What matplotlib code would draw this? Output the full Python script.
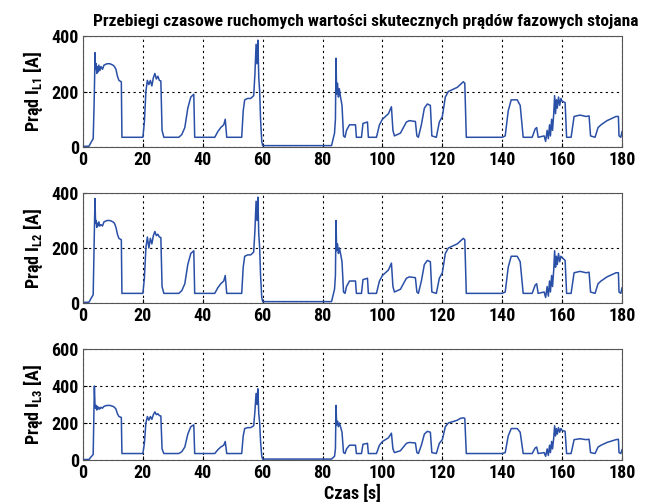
import matplotlib

matplotlib.use("Agg")
import matplotlib.pyplot as plt  # noqa: E402

# ---- data: (time [s], current [A]) breakpoints -------------------------------
seg_l1 = [
    (0, 2), (2, 3), (2.6, 15), (3.4, 30), (3.7, 150), (3.9, 260), (4.0, 340), (4.2, 280),
    (4.4, 300), (4.6, 265), (4.8, 290), (5.0, 270), (5.3, 295), (5.6, 275), (6.0, 290),
    (6.5, 280), (7.0, 295), (8.0, 300), (9.0, 300), (10.0, 295), (10.5, 290), (11.0, 280),
    (11.5, 255), (12.0, 240), (12.8, 235), (13.0, 35), (20.0, 35), (20.5, 90), (21.0, 200),
    (21.5, 240), (22.0, 225), (22.5, 240), (23.0, 220), (23.5, 250), (24.0, 265), (24.5, 245),
    (25.0, 255), (25.5, 240), (26.0, 238), (26.4, 60), (27.0, 35), (32.0, 35), (33.0, 45),
    (34.0, 70), (35.0, 140), (36.0, 180), (37.0, 190), (37.3, 35), (44.0, 35), (45.0, 55),
    (46.0, 70), (47.0, 80), (47.5, 100), (48.0, 35), (53.0, 35), (53.5, 130), (54.0, 170),
    (55.0, 175), (56.0, 175), (57.0, 185), (57.4, 260), (57.8, 370), (58.1, 300), (58.4, 385),
    (58.7, 250), (59.0, 200), (59.3, 100), (59.7, 20), (60.0, 5), (83.0, 5), (84.0, 50),
    (84.3, 100), (84.5, 320), (84.7, 190), (85.0, 230), (85.3, 180), (85.6, 210), (86.0, 180),
    (86.5, 150), (87.0, 40), (87.5, 35), (88.0, 60), (89.0, 80), (91.0, 80), (91.3, 35),
    (93.0, 35), (93.5, 85), (95.0, 90), (95.3, 35), (98.0, 35), (99.0, 80), (100.0, 100),
    (101.0, 110), (102.0, 120), (103.0, 145), (103.5, 60), (104.0, 40), (106.0, 50),
    (107.0, 70), (108.0, 90), (109.0, 95), (111.0, 92), (111.5, 40), (112.0, 35), (113.0, 80),
    (114.0, 140), (115.0, 155), (116.0, 150), (116.5, 40), (118.0, 35), (119.0, 90),
    (120.0, 110), (121.0, 180), (122.0, 200), (123.0, 205), (124.0, 210), (125.0, 215),
    (126.0, 225), (127.0, 235), (127.5, 230), (128.0, 35), (140.0, 35), (141.0, 40),
    (142.0, 130), (143.0, 170), (145.0, 170), (146.0, 150), (147.0, 35), (150.0, 35),
    (151.0, 65), (151.5, 70), (152.0, 35), (154.0, 40), (154.5, 20), (155.0, 60), (155.4, 30),
    (155.8, 80), (156.1, 40), (156.5, 100), (156.8, 60), (157.2, 120), (157.5, 185),
    (157.8, 120), (158.1, 170), (158.4, 140), (158.8, 180), (159.2, 150), (159.6, 175),
    (160.0, 165), (161.0, 160), (161.5, 35), (163.0, 35), (164.0, 110), (166.0, 115),
    (168.0, 110), (169.0, 112), (169.5, 40), (171.0, 35), (172.0, 70), (173.0, 80),
    (175.0, 95), (177.0, 105), (178.0, 110), (178.8, 110), (179.0, 40), (179.6, 35),
    (180.0, 55),
]

seg_l2 = [
    (0, 2), (2, 3), (2.6, 15), (3.4, 30), (3.7, 200), (3.9, 300), (4.0, 380), (4.2, 290),
    (4.4, 300), (4.6, 275), (4.8, 290), (5.0, 280), (5.3, 295), (5.6, 280), (6.0, 285),
    (6.5, 280), (7.0, 295), (8.0, 300), (9.0, 300), (10.0, 295), (10.5, 290), (11.0, 275),
    (11.5, 250), (12.0, 235), (12.8, 230), (13.0, 35), (20.0, 35), (20.5, 90), (21.0, 200),
    (21.5, 240), (22.0, 200), (22.5, 235), (23.0, 215), (23.5, 245), (24.0, 260), (24.5, 245),
    (25.0, 250), (25.5, 240), (26.0, 238), (26.4, 60), (27.0, 35), (32.0, 35), (33.0, 45),
    (34.0, 70), (35.0, 140), (36.0, 180), (37.0, 190), (37.3, 35), (44.0, 35), (45.0, 55),
    (46.0, 70), (47.0, 80), (47.5, 100), (48.0, 35), (53.0, 35), (53.5, 130), (54.0, 170),
    (55.0, 175), (56.0, 175), (57.0, 185), (57.4, 260), (57.8, 370), (58.1, 300), (58.4, 385),
    (58.7, 250), (59.0, 200), (59.3, 100), (59.7, 20), (60.0, 5), (83.0, 5), (84.0, 50),
    (84.3, 100), (84.5, 300), (84.7, 190), (85.0, 215), (85.3, 180), (85.6, 200), (86.0, 180),
    (86.5, 150), (87.0, 40), (87.5, 35), (88.0, 60), (89.0, 80), (91.0, 80), (91.3, 35),
    (93.0, 35), (93.5, 85), (95.0, 90), (95.3, 35), (98.0, 35), (99.0, 80), (100.0, 100),
    (101.0, 110), (102.0, 120), (103.0, 145), (103.5, 60), (104.0, 40), (106.0, 50),
    (107.0, 70), (108.0, 90), (109.0, 95), (111.0, 92), (111.5, 40), (112.0, 35), (113.0, 80),
    (114.0, 140), (115.0, 155), (116.0, 150), (116.5, 40), (118.0, 35), (119.0, 90),
    (120.0, 110), (121.0, 180), (122.0, 200), (123.0, 205), (124.0, 210), (125.0, 215),
    (126.0, 225), (127.0, 235), (127.5, 230), (128.0, 35), (140.0, 35), (141.0, 40),
    (142.0, 130), (143.0, 170), (145.0, 170), (146.0, 150), (147.0, 35), (150.0, 35),
    (151.0, 65), (151.5, 70), (152.0, 35), (154.0, 40), (154.5, 20), (155.0, 60), (155.4, 25),
    (155.8, 80), (156.1, 40), (156.5, 100), (156.8, 60), (157.2, 120), (157.5, 190),
    (157.8, 130), (158.1, 170), (158.4, 140), (158.8, 180), (159.2, 150), (159.6, 170),
    (160.0, 165), (161.0, 155), (161.5, 35), (163.0, 35), (164.0, 110), (166.0, 115),
    (168.0, 110), (169.0, 112), (169.5, 40), (171.0, 35), (172.0, 70), (173.0, 80),
    (175.0, 95), (177.0, 105), (178.0, 110), (178.8, 110), (179.0, 40), (179.6, 35),
    (180.0, 55),
]

seg_l3 = [
    (0, 2), (2, 3), (2.6, 15), (3.4, 30), (3.6, 200), (3.8, 400), (4.0, 300), (4.2, 280),
    (4.4, 295), (4.6, 270), (4.8, 290), (5.0, 275), (5.3, 285), (5.6, 275), (6.0, 285),
    (6.5, 280), (7.0, 290), (8.0, 295), (9.0, 295), (10.0, 290), (10.5, 285), (11.0, 275),
    (11.5, 250), (12.0, 235), (12.8, 230), (13.0, 35), (20.0, 35), (20.5, 90), (21.0, 200),
    (21.5, 235), (22.0, 215), (22.5, 235), (23.0, 220), (23.5, 245), (24.0, 260), (24.5, 245),
    (25.0, 250), (25.5, 240), (26.0, 238), (26.4, 60), (27.0, 35), (32.0, 35), (33.0, 45),
    (34.0, 70), (35.0, 140), (36.0, 180), (37.0, 190), (37.3, 35), (44.0, 35), (45.0, 55),
    (46.0, 70), (47.0, 80), (47.5, 100), (48.0, 35), (53.0, 35), (53.5, 130), (54.0, 170),
    (55.0, 175), (56.0, 175), (57.0, 185), (57.4, 260), (57.8, 360), (58.1, 300), (58.4, 385),
    (58.7, 250), (59.0, 200), (59.3, 100), (59.7, 20), (60.0, 5), (83.0, 5), (84.0, 20),
    (84.3, 60), (84.5, 295), (84.7, 190), (85.0, 210), (85.3, 180), (85.6, 200), (86.0, 180),
    (86.5, 150), (87.0, 40), (87.5, 35), (88.0, 60), (89.0, 80), (91.0, 80), (91.3, 35),
    (93.0, 35), (93.5, 85), (95.0, 90), (95.3, 35), (98.0, 35), (99.0, 80), (100.0, 100),
    (101.0, 110), (102.0, 120), (103.0, 145), (103.5, 60), (104.0, 40), (106.0, 50),
    (107.0, 70), (108.0, 90), (109.0, 95), (111.0, 92), (111.5, 40), (112.0, 35), (113.0, 80),
    (114.0, 140), (115.0, 155), (116.0, 150), (116.5, 40), (118.0, 35), (119.0, 90),
    (120.0, 110), (121.0, 180), (122.0, 200), (123.0, 205), (124.0, 210), (125.0, 215),
    (126.0, 225), (127.0, 228), (127.5, 225), (128.0, 35), (140.0, 35), (141.0, 40),
    (142.0, 130), (143.0, 170), (145.0, 170), (146.0, 150), (147.0, 35), (150.0, 35),
    (151.0, 65), (151.5, 70), (152.0, 35), (154.0, 40), (154.5, 20), (155.0, 60), (155.4, 25),
    (155.8, 80), (156.1, 40), (156.5, 100), (156.8, 60), (157.2, 120), (157.5, 185),
    (157.8, 130), (158.1, 170), (158.4, 140), (158.8, 175), (159.2, 150), (159.6, 170),
    (160.0, 160), (161.0, 155), (161.5, 35), (163.0, 35), (164.0, 110), (166.0, 115),
    (168.0, 110), (169.0, 112), (169.5, 40), (171.0, 35), (172.0, 70), (173.0, 80),
    (175.0, 95), (177.0, 105), (178.0, 110), (178.8, 112), (179.0, 40), (179.6, 35),
    (180.0, 55),
]

phases = ["L1", "L2", "L3"]
y_max = [400, 400, 600]
x_ticks = list(range(0, 181, 20))

BLUE = "#2a4fa6"
FONT = "Roboto Condensed"
plt.rcParams.update({"font.family": [FONT, "DejaVu Sans"], "font.weight": "bold",
                     "mathtext.fontset": "custom", "mathtext.rm": f"{FONT}:bold",
                     "mathtext.it": f"{FONT}:bold", "mathtext.bf": f"{FONT}:bold"})

fig = plt.figure(figsize=(6.45, 5.04), dpi=100)
W, H = 645, 504
tops = [36, 193, 349]
heights = [111, 110, 111]
axes = []
for top, h in zip(tops, heights):
    axes.append(fig.add_axes([83 / W, 1 - (top + h) / H, (622 - 83) / W, h / H]))

for ax, seg, ph, ym in zip(axes, [seg_l1, seg_l2, seg_l3], phases, y_max):
    t = [p[0] for p in seg]
    v = [p[1] for p in seg]
    ax.plot(t, v, color=BLUE, lw=1.1)
    ax.set_xlim(0, 180)
    ax.set_ylim(0, ym)
    ax.set_xticks(x_ticks)
    ax.set_yticks(list(range(0, ym + 1, 200)))
    ax.grid(True, ls=(0, (2, 3)), color="black", lw=0.8)
    ax.tick_params(labelsize=13, direction="in", length=3, width=0.8, pad=3)
    for lab in ax.get_xticklabels() + ax.get_yticklabels():
        lab.set_fontweight("bold")
    for s in ax.spines.values():
        s.set_linewidth(0.8)
        s.set_color("#555555")
    ax.set_ylabel(r"Prąd I$_{\mathbf{" + ph + r"}}$ [A]", fontsize=13, fontweight="bold", labelpad=5)

axes[0].set_title("Przebiegi czasowe ruchomych wartości skutecznych prądów fazowych stojana",
                  fontsize=12.5, fontweight="bold", pad=7, x=0.525)
axes[2].set_xlabel("Czas [s]", fontsize=13, fontweight="bold", labelpad=2)

fig.savefig("out.png", dpi=100)
